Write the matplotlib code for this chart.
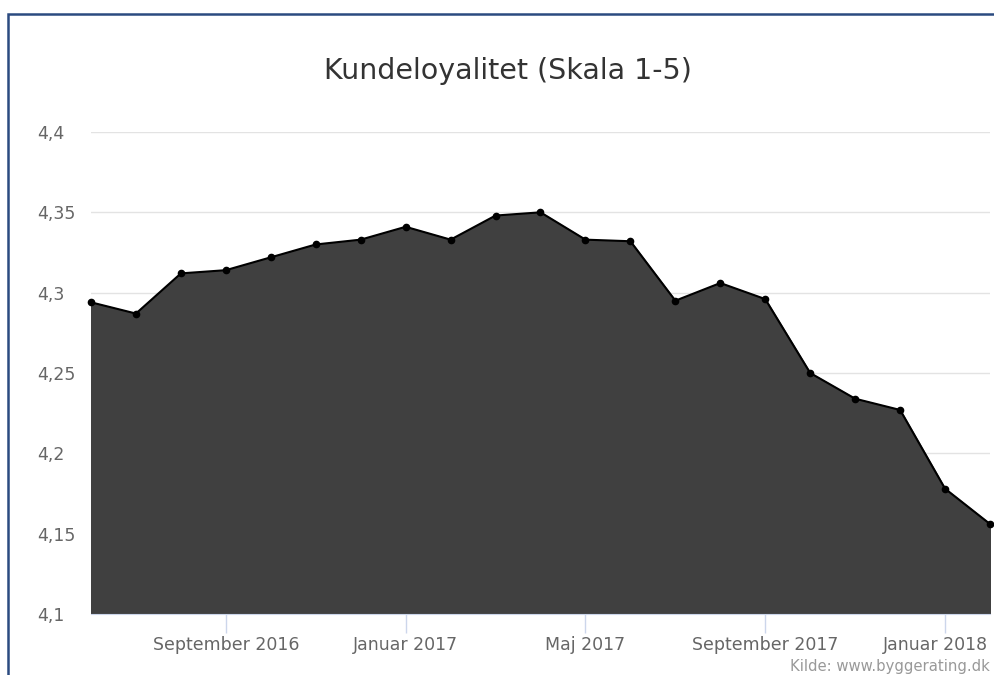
import matplotlib
matplotlib.use('Agg')
import matplotlib.pyplot as plt
import matplotlib.transforms as mtransforms
from matplotlib.patches import Rectangle

# Kundeloyalitet, juni 2016 - februar 2018
maaneder = ['Jun 2016', 'Jul 2016', 'Aug 2016', 'Sep 2016', 'Okt 2016', 'Nov 2016',
            'Dec 2016', 'Jan 2017', 'Feb 2017', 'Mar 2017', 'Apr 2017', 'Maj 2017',
            'Jun 2017', 'Jul 2017', 'Aug 2017', 'Sep 2017', 'Okt 2017', 'Nov 2017',
            'Dec 2017', 'Jan 2018', 'Feb 2018']
loyalitet = [4.294, 4.287, 4.312, 4.314, 4.322, 4.330, 4.333, 4.341, 4.333, 4.348,
             4.350, 4.333, 4.332, 4.295, 4.306, 4.296, 4.250, 4.234, 4.227, 4.178, 4.156]

tick_pos = [3, 7, 11, 15, 19]
tick_labels = ['September 2016', 'Januar 2017', 'Maj 2017', 'September 2017', 'Januar 2018']
y_ticks = [4.1, 4.15, 4.2, 4.25, 4.3, 4.35, 4.4]
y_labels = ['4,1', '4,15', '4,2', '4,25', '4,3', '4,35', '4,4']

fig = plt.figure(figsize=(9.95, 6.75), dpi=100)
ax = fig.add_axes([91/995, 61/675, 899/995, 482/675])

x = list(range(len(maaneder)))
ax.fill_between(x, 4.1, loyalitet, color='#404040', zorder=1)
ax.plot(x, loyalitet, color='black', lw=1.5, marker='o', ms=4.5, zorder=3, clip_on=False)

ax.set_xlim(0, len(maaneder) - 1)
ax.set_ylim(4.1, 4.4)
ax.set_yticks(y_ticks)
ax.set_yticklabels(y_labels, ha='left')
ax.set_xticks(tick_pos)
ax.set_xticklabels(tick_labels)

ax.grid(axis='y', color='#444444', alpha=0.15, lw=1, zorder=2)
ax.set_axisbelow(False)
for s in ['top', 'right', 'left']:
    ax.spines[s].set_visible(False)
ax.spines['bottom'].set_color('#ccd6eb')
ax.spines['bottom'].set_zorder(4)
# venstrestillede labels ca. 54 px fra plotkanten
ax.tick_params(axis='y', length=0, pad=39, labelsize=12.5, labelcolor='#666666')
ax.tick_params(axis='x', length=14, width=1, color='#ccd6eb', pad=2,
               labelsize=12.5, labelcolor='#666666')

# sidste label skubbes lidt ind, så den ikke bliver klippet
last = ax.get_xticklabels()[-1]
last.set_transform(last.get_transform() +
                   mtransforms.ScaledTranslation(-10/100, 0, fig.dpi_scale_trans))

fig.text(508/995, 1 - 71/675, 'Kundeloyalitet (Skala 1-5)', ha='center', va='center',
         fontsize=20.5, color='#333333')
fig.text(990/995, 1 - 667/675, 'Kilde: www.byggerating.dk', ha='right', va='center',
         fontsize=10.7, color='#999999')

fig.patches.append(Rectangle((8/995, -0.05), 1.2, 1 - 14/675 + 0.05, transform=fig.transFigure,
                             fill=False, edgecolor='#2b4a80', lw=1.8))

fig.savefig('out.png', dpi=100)
